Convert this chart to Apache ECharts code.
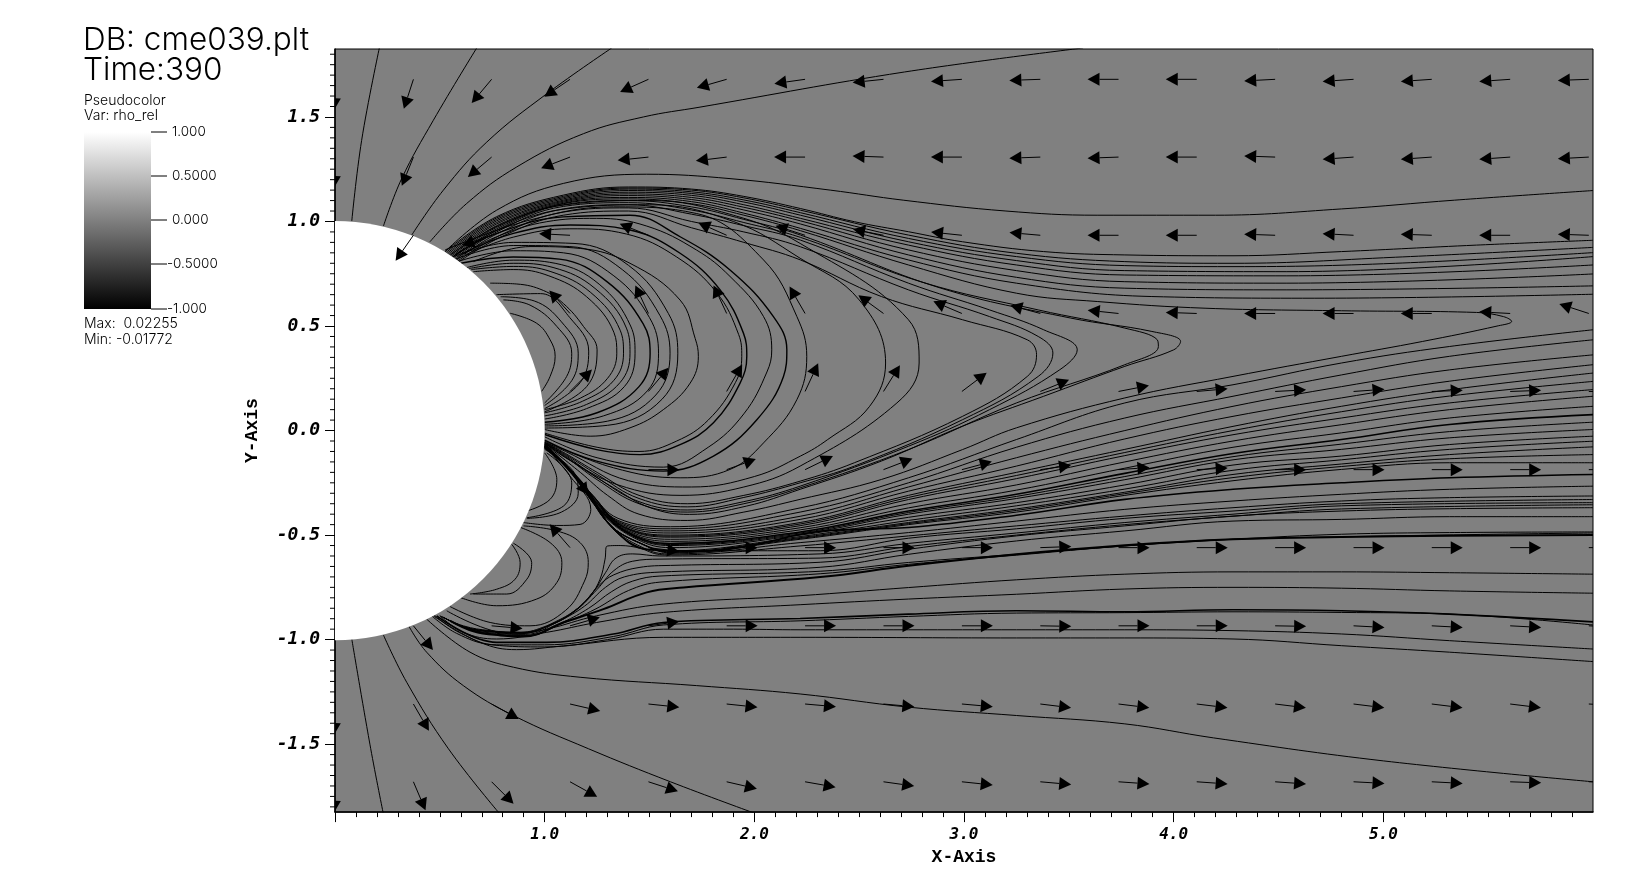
<!DOCTYPE html>
<html>
<head>
<meta charset="utf-8">
<style>
  html, body { margin: 0; padding: 0; background: #fff; }
  #main { width: 1648px; height: 871px; }
</style>
<script src="https://cdn.jsdelivr.net/npm/echarts@6/dist/echarts.min.js"></script>
</head>
<body>
<div id="main"></div>
<script>
// field grid: arrows have their tail on these positions
const arrowCols = [0, 0.374, 0.747, 1.121, 1.495, 1.868, 2.242, 2.616, 2.99, 3.364, 3.737, 4.11, 4.484, 4.858, 5.231, 5.605, 5.98]
const arrowRows = [1.68, 1.308, 0.934, 0.56, 0.187, -0.187, -0.56, -0.934, -1.308, -1.68]
// direction of each arrow in degrees, null = under the sphere
const arrowAngles = [
  [-92, -108, -130, -146, -156, -164, -172, -174, -176, -178, 180, 180, -177, -176, -176, -176, -178],
  [-92, -112, -140, -159, -174, -173, 180, 178, 180, -178, -178, 180, 178, -176, -176, -176, -177],
  [null, -125, -161, 177, 158, 156, 162, 169, 174, 175, 180, 180, 178, 177, 178, 180, 178],
  [null, null, null, 132, 115, 115, 120, 144, 157, 165, 174, 178, 180, 180, 180, 177, 162],
  [null, null, null, 45, 50, 60, 65, 58, 37, 22, 11, 5, 3, 4, 2, 2, 0],
  [null, null, null, -54, 0, 20, 26, 21, 15, 8, 4, 3, 0, 0, 0, 0, 0],
  [null, null, null, 131, -7, 0, 0, 0, 0, 2, 0, 0, 0, 0, 0, 0, 0],
  [null, -51, -5, 16, 8, 0, 0, 0, 0, -1, 0, 0, -1, -3, -3, -3, -3],
  [-92, -60, -29, -13, -6, -6, -5, -5, -5, -7, -7, -7, -7, -7, -7, -7, -3],
  [-92, -67, -45, -29, -18, -13, -10, -8, -6, -5, -4, -4, -4, -3, -3, -2, 0]
]

// open field lines above and below the sphere
const openLines = [
  [[0.08, 1.002], [0.127, 1.388], [0.2115, 1.83]],
  [[0.231, 0.978], [0.318, 1.205], [0.469, 1.484], [0.676, 1.83]],
  [[0.366, 0.935], [0.517, 1.15], [0.724, 1.38], [1.01, 1.611], [1.32, 1.83]],
  [[0.453, 0.903], [0.628, 1.086], [0.867, 1.261], [1.185, 1.42], [1.471, 1.5], [1.741, 1.547], [2.716, 1.715], [3.568, 1.83]],
  [[0.525, 0.856], [0.771, 1.054], [1.089, 1.182], [1.487, 1.226], [1.884, 1.205], [2.362, 1.15], [2.71, 1.102], [3.2, 1.05], [3.635, 1.03], [4.2, 1.03], [4.8, 1.06], [5.34, 1.102], [6, 1.148]],
  [[0.08, -0.997], [0.17, -1.52], [0.23, -1.83]],
  [[0.231, -0.978], [0.342, -1.204], [0.541, -1.522], [0.783, -1.83]],
  [[0.353, -0.937], [0.437, -1.06], [0.612, -1.22], [0.851, -1.363], [1.209, -1.522], [1.6, -1.68], [2.0, -1.83]],
  [[0.437, -0.902], [0.644, -1.06], [0.851, -1.132], [1.169, -1.18], [1.725, -1.22], [2.2185, -1.26], [2.735, -1.323], [3.25, -1.363], [3.767, -1.403], [4.19, -1.47], [5, -1.58], [6, -1.68]]
]

// closed loops in front of the sphere, small to large
const loopLines = [
  [[0.835, 0.561], [0.962, 0.513], [1.026, 0.434], [1.05, 0.355], [1.026, 0.259], [0.986, 0.188]],
  [[0.803, 0.625], [0.93, 0.6], [1.058, 0.498], [1.129, 0.37], [1.105, 0.259], [1.0, 0.132]],
  [[0.79, 0.64], [0.95, 0.62], [1.08, 0.52], [1.16, 0.37], [1.13, 0.24], [1.0, 0.12]],
  [[0.77, 0.65], [0.98, 0.655], [1.12, 0.54], [1.21, 0.38], [1.17, 0.23], [1.0, 0.105]],
  [[0.74, 0.705], [0.867, 0.701], [0.994, 0.67], [1.09, 0.607], [1.185, 0.498], [1.25, 0.386], [1.2, 0.21], [1.0, 0.09]],
  [[0.66, 0.76], [0.85, 0.77], [1.02, 0.74], [1.2, 0.64], [1.33, 0.47], [1.344, 0.37], [1.3, 0.25], [1.17, 0.155], [1.0, 0.1]],
  [[0.65, 0.77], [0.85, 0.785], [1.03, 0.76], [1.22, 0.66], [1.36, 0.48], [1.376, 0.37], [1.33, 0.24], [1.18, 0.14], [1.0, 0.085]],
  [[0.64, 0.775], [0.85, 0.8], [1.04, 0.78], [1.24, 0.68], [1.39, 0.49], [1.407, 0.37], [1.36, 0.23], [1.2, 0.125], [1.0, 0.07]],
  [[0.63, 0.78], [0.85, 0.815], [1.05, 0.8], [1.26, 0.7], [1.41, 0.5], [1.431, 0.37], [1.38, 0.21], [1.2, 0.105], [1.0, 0.055]],
  [[0.59, 0.81], [0.85, 0.86], [1.09, 0.85], [1.33, 0.74], [1.5, 0.54], [1.543, 0.37], [1.49, 0.19], [1.28, 0.07], [1.0, 0.03]],
  [[0.575, 0.82], [0.85, 0.885], [1.12, 0.88], [1.37, 0.77], [1.55, 0.55], [1.598, 0.37], [1.53, 0.17], [1.3, 0.045], [1.0, 0.022]],
  [[0.56, 0.83], [0.85, 0.9], [1.14, 0.895], [1.4, 0.79], [1.59, 0.56], [1.635, 0.37], [1.56, 0.15], [1.3, 0.025], [1.0, 0.012]],
  [[0.66, 0.808], [0.93, 0.88], [1.17, 0.871], [1.407, 0.8], [1.646, 0.624], [1.718, 0.44], [1.733, 0.355], [1.694, 0.227], [1.566, 0.1], [1.407, 0.013], [1.217, -0.027], [1.0, 0.005]],
  [[0.62, 0.84], [0.85, 0.925], [1.12, 0.965], [1.39, 0.94], [1.63, 0.83], [1.82, 0.66], [1.925, 0.46], [1.94, 0.355], [1.91, 0.23], [1.78, 0.05], [1.63, -0.05], [1.45, -0.1], [1.25, -0.08], [1.0, -0.012]],
  [[0.588, 0.832], [0.771, 0.927], [1.01, 0.999], [1.248, 1.015], [1.487, 0.978], [1.725, 0.863], [1.884, 0.737], [2.044, 0.545], [2.083, 0.386], [2.06, 0.28], [1.95, 0.08], [1.78, -0.08], [1.566, -0.175], [1.25, -0.13], [1.0, -0.03]],
  [[0.525, 0.864], [0.93, 1.007], [1.328, 1.07], [1.725, 1.038], [2.044, 0.816], [2.203, 0.545], [2.25, 0.355], [2.203, 0.148], [2.044, -0.059], [1.884, -0.186], [1.646, -0.226], [1.328, -0.178], [1.0, -0.05]],
  [[0.56, 0.83], [0.8, 0.97], [1.1, 1.06], [1.5, 1.08], [1.9, 1.0], [2.2185, 0.824], [2.5, 0.625], [2.626, 0.323], [2.55, 0.116], [2.35, -0.043], [2.22, -0.122], [2.0, -0.22], [1.7, -0.27], [1.4, -0.24], [1.1, -0.1], [1.0, -0.055]],
  [[0.55, 0.84], [0.8, 0.99], [1.1, 1.08], [1.5, 1.1], [1.9, 1.03], [2.2185, 0.895], [2.735, 0.53], [2.786, 0.323], [2.68, 0.132], [2.2185, -0.17], [1.95, -0.27], [1.65, -0.31], [1.35, -0.26], [1.1, -0.13], [1.0, -0.06]]
]
const loopThick = [
  [[0.6, 0.8], [0.85, 0.83], [1.07, 0.82], [1.3, 0.71], [1.47, 0.51], [1.503, 0.37], [1.45, 0.21], [1.25, 0.085], [1.0, 0.04]],
  [[0.612, 0.848], [0.851, 0.943], [1.121, 0.983], [1.407, 0.959], [1.646, 0.848], [1.837, 0.673], [1.948, 0.466], [1.964, 0.355], [1.932, 0.227], [1.805, 0.037], [1.646, -0.067], [1.455, -0.115], [1.248, -0.091], [1.0, -0.019]],
  [[0.573, 0.84], [0.771, 0.943], [1.089, 1.022], [1.407, 1.03], [1.646, 0.927], [1.884, 0.768], [2.091, 0.545], [2.155, 0.386], [2.139, 0.259], [2.012, 0.052], [1.805, -0.122], [1.566, -0.194], [1.248, -0.146], [1.0, -0.046]]
]

// bundle over the top of the loops, running off to the right
const topBundle = [
  [[0.525, 0.856], [0.771, 1.023], [1.089, 1.126], [1.4, 1.165], [1.7, 1.155], [1.95, 1.12], [2.22, 1.062], [2.477, 0.999], [2.735, 0.951], [2.993, 0.903], [3.38, 0.856], [3.767, 0.84], [4.283, 0.836], [4.8, 0.856], [5.444, 0.887], [6, 0.91]],
  [[0.53, 0.852], [0.771, 1.017], [1.089, 1.12], [1.4, 1.16], [1.7, 1.15], [1.95, 1.113], [2.22, 1.054], [2.735, 0.935], [3.25, 0.848], [3.767, 0.808], [4.283, 0.8], [5.057, 0.829], [6, 0.876]],
  [[0.535, 0.848], [0.771, 1.01], [1.089, 1.114], [1.4, 1.155], [1.7, 1.142], [1.95, 1.103], [2.22, 1.042], [2.735, 0.919], [3.25, 0.832], [3.767, 0.789], [4.283, 0.784], [5.057, 0.8], [6, 0.851]],
  [[0.54, 0.844], [0.771, 1.003], [1.089, 1.108], [1.4, 1.148], [1.7, 1.134], [1.95, 1.093], [2.22, 1.03], [2.735, 0.903], [3.25, 0.813], [3.767, 0.765], [4.54, 0.76], [6, 0.832]],
  [[0.545, 0.84], [0.771, 0.995], [1.089, 1.102], [1.4, 1.14], [1.7, 1.125], [1.95, 1.08], [2.22, 1.015], [2.735, 0.887], [3.25, 0.792], [3.767, 0.744], [4.54, 0.74], [6, 0.792]],
  [[0.55, 0.836], [0.771, 0.988], [1.089, 1.097], [1.4, 1.132], [1.7, 1.115], [1.95, 1.068], [2.22, 1.003], [2.735, 0.864], [3.25, 0.765], [3.767, 0.712], [4.54, 0.705], [6, 0.749]],
  [[0.555, 0.833], [0.771, 0.98], [1.089, 1.092], [1.4, 1.124], [1.7, 1.105], [1.95, 1.055], [2.22, 0.988], [2.735, 0.84], [3.25, 0.733], [3.767, 0.681], [4.54, 0.673], [6, 0.692]],
  [[0.56, 0.83], [0.771, 0.972], [1.089, 1.087], [1.4, 1.115], [1.7, 1.095], [1.95, 1.04], [2.22, 0.967], [2.735, 0.816], [3.25, 0.705], [3.896, 0.641], [4.67, 0.633], [6, 0.652]]
]

// lines that fold back in a nose and return under the loops
const noseLines = [
  [[0.565, 0.826], [0.771, 0.965], [1.089, 1.085], [1.4, 1.108], [1.7, 1.085], [1.95, 1.03], [2.22, 0.956], [2.735, 0.792], [3.25, 0.657], [3.638, 0.617], [4.154, 0.585], [4.8, 0.573], [5.444, 0.565], [5.573, 0.545], [5.612, 0.522], [5.548, 0.501], [5.186, 0.426], [4.8, 0.355], [4.283, 0.259], [3.767, 0.156], [3.25, 0.013], [2.993, -0.091], [2.606, -0.234], [2.2185, -0.329], [1.95, -0.39], [1.68, -0.43], [1.45, -0.4], [1.3, -0.31], [1.17, -0.2], [1.0, -0.064]],
  [[0.57, 0.822], [0.771, 0.958], [1.089, 1.08], [1.4, 1.1], [1.7, 1.07], [1.95, 1.01], [2.22, 0.935], [2.89, 0.681], [3.509, 0.538], [3.896, 0.474], [4.033, 0.426], [4, 0.386], [3.767, 0.307], [3.38, 0.164], [2.993, 0.021], [2.606, -0.146], [2.2185, -0.281], [1.964, -0.361], [1.69, -0.401], [1.503, -0.369], [1.328, -0.273], [1.188, -0.186], [1.0, -0.062]],
  [[0.575, 0.818], [0.771, 0.95], [1.089, 1.072], [1.4, 1.09], [1.7, 1.055], [1.95, 0.995], [2.22, 0.924], [2.8, 0.71], [3.354, 0.577], [3.767, 0.49], [3.922, 0.434], [3.927, 0.402], [3.767, 0.315], [3.25, 0.132], [2.735, -0.091], [2.2185, -0.274], [1.95, -0.35], [1.68, -0.39], [1.45, -0.35], [1.25, -0.235], [1.1, -0.125], [1.0, -0.06]],
  [[0.58, 0.815], [0.771, 0.94], [1.089, 1.06], [1.4, 1.08], [1.7, 1.035], [1.95, 0.98], [2.22, 0.911], [2.735, 0.705], [3.122, 0.577], [3.38, 0.482], [3.54, 0.386], [3.457, 0.291], [3.122, 0.1], [2.735, -0.075], [2.2185, -0.266], [1.95, -0.34], [1.68, -0.38], [1.45, -0.34], [1.25, -0.225], [1.1, -0.12], [1.0, -0.059]],
  [[0.585, 0.811], [0.8, 0.94], [1.089, 1.045], [1.4, 1.065], [1.7, 1.0], [1.95, 0.95], [2.22, 0.879], [2.735, 0.673], [3.122, 0.545], [3.354, 0.45], [3.424, 0.371], [3.354, 0.259], [2.993, 0.052], [2.477, -0.17], [2.2185, -0.25], [1.95, -0.32], [1.68, -0.365], [1.45, -0.325], [1.25, -0.21], [1.1, -0.115], [1.0, -0.057]],
  [[0.59, 0.807], [0.8, 0.93], [1.089, 1.03], [1.4, 1.05], [1.7, 0.97], [1.95, 0.9], [2.22, 0.816], [2.606, 0.641], [2.993, 0.53], [3.302, 0.434], [3.346, 0.363], [3.302, 0.259], [2.993, 0.068], [2.477, -0.154], [2.2185, -0.242], [1.95, -0.31], [1.68, -0.35], [1.45, -0.31], [1.25, -0.2], [1.1, -0.11], [1.0, -0.055]]
]

// fan leaving the ridge below the equator
const fanLines = [
  [[6, 0.482], [5.315, 0.402], [4.8, 0.323], [4.283, 0.219], [3.767, 0.132], [3.25, -0.043], [2.735, -0.226], [2.2185, -0.37], [1.6, -0.46], [1.35, -0.42], [1.22, -0.3], [1.1, -0.16], [1.0, -0.065]],
  [[6, 0.434], [5.315, 0.355], [4.8, 0.266], [4.283, 0.164], [3.767, 0.06], [3.25, -0.08], [2.735, -0.25], [2.2185, -0.39], [1.6, -0.47], [1.35, -0.43], [1.23, -0.31], [1.1, -0.165], [1.0, -0.066]],
  [[6, 0.362], [5.315, 0.29], [4.8, 0.21], [4.283, 0.116], [3.767, 0], [3.25, -0.13], [2.735, -0.27], [2.2185, -0.41], [1.6, -0.48], [1.36, -0.44], [1.235, -0.32], [1.105, -0.17], [1.0, -0.067]],
  [[6, 0.315], [5.315, 0.236], [4.8, 0.156], [4.283, 0.068], [3.767, -0.04], [3.25, -0.17], [2.735, -0.29], [2.2185, -0.425], [1.6, -0.49], [1.37, -0.45], [1.24, -0.33], [1.11, -0.175], [1.0, -0.068]],
  [[6, 0.275], [5.315, 0.195], [4.8, 0.116], [4.283, 0.02], [3.767, -0.09], [3.25, -0.2], [2.735, -0.31], [2.2185, -0.44], [1.6, -0.5], [1.38, -0.46], [1.245, -0.34], [1.11, -0.18], [1.0, -0.069]],
  [[6, 0.235], [5.315, 0.165], [4.8, 0.09], [4.283, 0], [3.767, -0.105], [3.25, -0.215], [2.735, -0.32], [2.2185, -0.447], [1.6, -0.505], [1.385, -0.465], [1.248, -0.345], [1.112, -0.182], [1.0, -0.0695]],
  [[6, 0.196], [5.315, 0.132], [4.8, 0.06], [4.283, -0.02], [3.767, -0.12], [3.25, -0.23], [2.735, -0.33], [2.2185, -0.455], [1.6, -0.51], [1.39, -0.47], [1.25, -0.35], [1.115, -0.185], [1.0, -0.07]],
  [[6, 0.164], [5.315, 0.1], [4.8, 0.028], [4.283, -0.05], [3.767, -0.15], [3.25, -0.26], [2.735, -0.35], [2.2185, -0.465], [1.6, -0.52], [1.4, -0.48], [1.255, -0.36], [1.12, -0.19], [1.0, -0.071]],
  [[6, 0.116], [5.315, 0.06], [4.8, -0.011], [4.283, -0.08], [3.767, -0.18], [3.25, -0.285], [2.735, -0.37], [2.2185, -0.475], [1.6, -0.53], [1.41, -0.49], [1.26, -0.37], [1.12, -0.195], [1.0, -0.072]],
  [[6, 0.04], [5.315, -0.005], [4.8, -0.065], [4.283, -0.125], [3.767, -0.22], [3.25, -0.315], [2.735, -0.392], [2.2185, -0.49], [1.6, -0.545], [1.425, -0.505], [1.268, -0.385], [1.128, -0.203], [1.0, -0.0735]],
  [[6, 0.005], [5.315, -0.035], [4.8, -0.09], [4.283, -0.14], [3.767, -0.235], [3.25, -0.325], [2.735, -0.4], [2.2185, -0.495], [1.6, -0.55], [1.43, -0.51], [1.27, -0.39], [1.13, -0.205], [1.0, -0.074]],
  [[6, -0.027], [5.315, -0.067], [4.8, -0.122], [4.283, -0.165], [3.767, -0.26], [3.25, -0.345], [2.735, -0.415], [2.2185, -0.5], [1.6, -0.56], [1.44, -0.52], [1.275, -0.4], [1.135, -0.21], [1.0, -0.075]],
  [[6, -0.051], [5.315, -0.09], [4.8, -0.14], [4.283, -0.19], [3.767, -0.28], [3.25, -0.36], [2.735, -0.43], [2.2185, -0.507], [1.6, -0.575], [1.46, -0.54], [1.3, -0.44], [1.16, -0.23], [1.0, -0.079]],
  [[6, -0.078], [5.315, -0.115], [4.8, -0.16], [4.283, -0.21], [3.767, -0.295], [3.25, -0.375], [2.735, -0.44], [2.2185, -0.512], [1.6, -0.58], [1.47, -0.545], [1.305, -0.445], [1.165, -0.235], [1.0, -0.08]],
  [[6, -0.115], [5.315, -0.135], [4.8, -0.172], [4.283, -0.225], [3.767, -0.302], [3.25, -0.382], [2.735, -0.445], [2.2185, -0.516], [1.6, -0.582], [1.475, -0.548], [1.308, -0.448], [1.168, -0.238], [1.0, -0.0805]],
  [[6, -0.154], [5.315, -0.154], [4.8, -0.186], [4.283, -0.24], [3.767, -0.31], [3.25, -0.39], [2.735, -0.45], [2.2185, -0.52], [1.6, -0.585], [1.48, -0.55], [1.31, -0.45], [1.17, -0.24], [1.0, -0.081]],
  [[6, -0.266], [5.315, -0.281], [4.8, -0.305], [4.283, -0.337], [3.767, -0.377], [3.25, -0.433], [2.735, -0.488], [2.2185, -0.536], [1.6, -0.59], [1.49, -0.57], [1.32, -0.46], [1.18, -0.25], [1.0, -0.083]],
  [[6, -0.313], [5.315, -0.321], [4.8, -0.337], [4.283, -0.369], [3.767, -0.409], [3.25, -0.456], [2.735, -0.504], [2.2185, -0.552], [1.6, -0.595], [1.5, -0.58], [1.325, -0.47], [1.185, -0.255], [1.0, -0.084]]
]
const fanThick = [
  [[6, 0.076], [5.315, 0.029], [4.8, -0.043], [4.283, -0.11], [3.767, -0.205], [3.25, -0.305], [2.735, -0.385], [2.2185, -0.485], [1.6, -0.54], [1.42, -0.5], [1.265, -0.38], [1.125, -0.2], [1.0, -0.073]],
  [[6, -0.21], [5.315, -0.226], [4.8, -0.25], [4.283, -0.281], [3.767, -0.329], [3.25, -0.405], [2.735, -0.464], [2.314, -0.482], [1.966, -0.553], [1.756, -0.577], [1.488, -0.568], [1.315, -0.455], [1.175, -0.245], [1.0, -0.082]]
]

// lines that come along the lower dark band from the sphere
const lowerFan = [
  [[0.5, -0.886], [0.612, -0.934], [0.74, -0.957], [0.883, -0.965], [1.01, -0.934], [1.121, -0.878], [1.217, -0.79], [1.264, -0.711], [1.288, -0.615], [1.297, -0.553], [1.36, -0.55], [1.55, -0.575], [2.314, -0.575], [2.735, -0.515], [3.25, -0.47], [3.767, -0.42], [4.283, -0.385], [4.8, -0.35], [6, -0.33]],
  [[0.51, -0.89], [0.62, -0.94], [0.75, -0.96], [0.89, -0.965], [1.03, -0.93], [1.14, -0.865], [1.23, -0.775], [1.29, -0.68], [1.34, -0.61], [1.42, -0.59], [1.55, -0.6], [2.314, -0.59], [2.735, -0.54], [3.25, -0.49], [3.767, -0.44], [4.283, -0.4], [4.8, -0.36], [6, -0.345]],
  [[0.515, -0.892], [0.625, -0.942], [0.755, -0.962], [0.895, -0.967], [1.04, -0.925], [1.15, -0.86], [1.25, -0.76], [1.33, -0.67], [1.42, -0.625], [1.55, -0.615], [2.314, -0.61], [2.735, -0.555], [3.25, -0.5], [3.767, -0.45], [4.283, -0.41], [4.8, -0.375], [6, -0.355]],
  [[0.52, -0.895], [0.63, -0.945], [0.76, -0.965], [0.9, -0.97], [1.05, -0.915], [1.17, -0.84], [1.26, -0.74], [1.33, -0.69], [1.45, -0.655], [1.6, -0.645], [2.314, -0.63], [2.735, -0.568], [3.25, -0.504], [3.767, -0.456], [4.283, -0.409], [4.8, -0.385], [5.315, -0.374], [6, -0.369]],
  [[0.53, -0.9], [0.64, -0.95], [0.77, -0.97], [0.91, -0.975], [1.07, -0.91], [1.19, -0.84], [1.29, -0.75], [1.38, -0.7], [1.55, -0.677], [2.314, -0.654], [2.735, -0.592], [3.25, -0.528], [3.767, -0.48], [4.283, -0.433], [4.8, -0.425], [5.315, -0.412], [6, -0.412]],
  [[0.54, -0.905], [0.65, -0.955], [0.78, -0.975], [0.92, -0.98], [1.09, -0.915], [1.21, -0.85], [1.32, -0.77], [1.42, -0.72], [1.55, -0.696], [2.314, -0.673], [2.735, -0.631], [3.25, -0.592], [3.767, -0.552], [4.283, -0.52], [4.8, -0.496], [5.315, -0.488], [6, -0.485]],
  [[0.545, -0.908], [0.655, -0.958], [0.785, -0.978], [0.91, -0.983], [1.09, -0.92], [1.24, -0.855], [1.4, -0.765], [1.55, -0.725], [2.314, -0.685], [2.735, -0.64], [3.25, -0.596], [3.767, -0.552], [4.283, -0.52], [6, -0.49]]
]
const lowerThick = [
  [[0.55, -0.91], [0.66, -0.96], [0.79, -0.98], [0.9, -0.985], [1.089, -0.918], [1.28, -0.854], [1.487, -0.774], [1.662, -0.751], [2.314, -0.701], [2.735, -0.647], [3.25, -0.592], [3.767, -0.549], [4.283, -0.52], [4.8, -0.509], [5.315, -0.503], [6, -0.5]]
]

// below the band, flat to the right edge
const bottomBundle = [
  [[0.533, -0.862], [0.85, -0.973], [1.01, -0.95], [1.248, -0.886], [1.566, -0.83], [2.2185, -0.79], [2.735, -0.751], [3.25, -0.714], [3.767, -0.687], [4.283, -0.676], [4.8, -0.676], [5.315, -0.68], [6, -0.687]],
  [[0.5, -0.886], [0.612, -0.965], [0.771, -0.997], [1.01, -0.965], [1.248, -0.918], [1.566, -0.87], [2.2185, -0.833], [2.735, -0.806], [3.25, -0.783], [3.767, -0.758], [4.283, -0.75], [4.8, -0.754], [5.315, -0.767], [6, -0.778]],
  [[0.47, -0.88], [0.6, -0.97], [0.771, -1.025], [1.0, -1.025], [1.328, -0.985], [1.566, -0.93], [2.2185, -0.91], [2.735, -0.889], [3.25, -0.873], [3.767, -0.871], [4.283, -0.867], [4.8, -0.87], [5.315, -0.878], [6, -0.93]],
  [[0.46, -0.885], [0.58, -0.97], [0.75, -1.025], [1.0, -1.035], [1.3, -1.0], [1.566, -0.95], [1.9, -0.95], [2.2185, -0.953], [2.735, -0.953], [3.25, -0.953], [3.767, -0.953], [4.283, -0.957], [4.8, -0.973], [5.315, -1.005], [6, -1.045]],
  [[0.469, -0.886], [0.692, -1.013], [0.866, -1.048], [1.089, -1.03], [1.566, -0.989], [2.2185, -0.989], [3.25, -0.992], [3.767, -0.992], [4.283, -0.997], [4.8, -1.029], [5.315, -1.06], [6, -1.105]]
]
const bottomThick = [
  [[0.485, -0.886], [0.771, -1.013], [1.01, -1.013], [1.328, -0.973], [1.566, -0.918], [2.2185, -0.899], [2.735, -0.878], [3.25, -0.862], [3.767, -0.867], [4.283, -0.857], [4.8, -0.862], [5.315, -0.878], [6, -0.915]]
]

// small lobes between the sphere and the ridge
const lobeLines = [
  [[1.0, -0.107], [1.058, -0.234], [1.026, -0.329], [0.915, -0.385]],
  [[1.01, -0.107], [1.129, -0.25], [1.09, -0.361], [0.915, -0.417]],
  [[1.0, -0.09], [1.14, -0.2], [1.16, -0.3], [1.08, -0.39], [0.915, -0.42]],
  [[1.0, -0.075], [1.121, -0.218], [1.22, -0.377], [1.169, -0.449], [1.058, -0.454], [0.899, -0.44]],
  [[0.875, -0.46], [1.026, -0.536], [1.082, -0.631], [1.058, -0.727], [0.962, -0.806], [0.771, -0.838], [0.596, -0.798]],
  [[0.851, -0.539], [0.938, -0.631], [0.915, -0.711], [0.819, -0.782], [0.66, -0.782]],
  [[0.843, -0.544], [0.883, -0.631], [0.859, -0.711], [0.771, -0.759], [0.644, -0.782]],
  [[0.899, -0.456], [1.058, -0.48], [1.169, -0.536], [1.208, -0.631], [1.19, -0.72], [1.1, -0.86], [0.93, -0.934], [0.74, -0.918], [0.549, -0.842]]
]

const xTicksMajor = [0, 1, 2, 3, 4, 5]
const xLabels = [1, 2, 3, 4, 5]
const yTicksMajor = [-1.5, -1, -0.5, 0, 0.5, 1, 1.5]
const yTicksMinor = [-1.8, -1.75, -1.7, -1.65, -1.6, -1.55, -1.45, -1.4, -1.35, -1.3, -1.25, -1.2, -1.15, -1.1, -1.05, -0.95, -0.9, -0.85, -0.8, -0.75, -0.7, -0.65, -0.6, -0.55, -0.45, -0.4, -0.35, -0.3, -0.25, -0.2, -0.15, -0.1, -0.05, 0.05, 0.1, 0.15, 0.2, 0.25, 0.3, 0.35, 0.4, 0.45, 0.55, 0.6, 0.65, 0.7, 0.75, 0.8, 0.85, 0.9, 0.95, 1.05, 1.1, 1.15, 1.2, 1.25, 1.3, 1.35, 1.4, 1.45, 1.55, 1.6, 1.65, 1.7, 1.75, 1.8]
const legendTicks = ['1.000', '0.5000', '0.000', '-0.5000', '-1.000']
const legendTickY = [132, 176, 220, 264, 309]

const lineSeries = (lines, width) => lines.map((pts) => ({
  type: 'line',
  data: pts,
  symbol: 'none',
  smooth: 0.4,
  smoothConstraint: false,
  silent: true,
  animation: false,
  z: 2,
  lineStyle: { color: '#000', width: width }
}))

const arrowData = []
arrowRows.forEach((y, r) => {
  arrowCols.forEach((x, c) => {
    if (arrowAngles[r][c] !== null) {
      arrowData.push([x, y, arrowAngles[r][c]])
    }
  })
})

const arrowLen = 31
const headLen = 12
const headHalf = 6.5

const renderArrow = (params, api) => {
  const p = api.coord([api.value(0), api.value(1)])
  const a = (api.value(2) * Math.PI) / 180
  const ux = Math.cos(a)
  const uy = -Math.sin(a)
  const tip = [p[0] + ux * arrowLen, p[1] + uy * arrowLen]
  const base = [tip[0] - ux * headLen, tip[1] - uy * headLen]
  return {
    type: 'group',
    children: [
      {
        type: 'line',
        shape: { x1: p[0], y1: p[1], x2: base[0], y2: base[1] },
        style: { stroke: '#000', lineWidth: 1 }
      },
      {
        type: 'polygon',
        shape: {
          points: [
            tip,
            [base[0] - uy * headHalf, base[1] + ux * headHalf],
            [base[0] + uy * headHalf, base[1] - ux * headHalf]
          ]
        },
        style: { fill: '#000' }
      }
    ]
  }
}

const renderSphere = (params, api) => {
  const c = api.coord([api.value(0), api.value(1)])
  const size = api.size([api.value(2), api.value(2)])
  return {
    type: 'circle',
    shape: { cx: c[0], cy: c[1], r: size[0] },
    style: { fill: '#fff' }
  }
}

const renderMinorTick = (params, api) => {
  const p = api.coord([0, api.value(0)])
  return {
    type: 'line',
    shape: { x1: p[0] - 5, y1: p[1], x2: p[0], y2: p[1] },
    style: { stroke: '#000', lineWidth: 1 }
  }
}

const titleFont = 'Inter, sans-serif'
const text = (x, y, str, size) => ({
  type: 'text',
  left: x,
  top: y,
  silent: true,
  style: { text: str, fontSize: size, fontFamily: titleFont, fontWeight: 300, fill: '#000' }
})

const legendGraphics = [
  text(83, 25, 'DB: cme039.plt', 31.5),
  text(83, 55, 'Time:390', 31.5),
  text(84, 94, 'Pseudocolor', 14),
  text(84, 109, 'Var: rho_rel', 14),
  text(84, 317, 'Max:  0.02255', 14),
  text(84, 333, 'Min: -0.01772', 14),
  {
    type: 'rect',
    shape: { x: 84, y: 132, width: 67, height: 177 },
    silent: true,
    style: {
      fill: new echarts.graphic.LinearGradient(0, 0, 0, 1, [
        { offset: 0, color: '#fff' },
        { offset: 1, color: '#000' }
      ])
    }
  }
]
legendTicks.forEach((label, i) => {
  legendGraphics.push({
    type: 'line',
    shape: { x1: 151, y1: legendTickY[i], x2: 167, y2: legendTickY[i] },
    silent: true,
    style: { stroke: '#000', lineWidth: 1 }
  })
  legendGraphics.push(text(label.charAt(0) === '-' ? 167 : 172, legendTickY[i] - 7, label, 13.5))
})

const axisFont = {
  fontFamily: '"DejaVu Sans Mono", monospace',
  fontWeight: 'bold',
  fontStyle: 'italic',
  color: '#000'
}
const nameFont = {
  fontFamily: '"Liberation Mono", monospace',
  fontWeight: 'bold',
  fontSize: 18,
  color: '#000'
}

const myChart = echarts.init(document.getElementById('main'), null, { renderer: 'canvas' })
myChart.setOption({
  animation: false,
  backgroundColor: '#fff',
  grid: {
    left: 335,
    right: 55,
    top: 49,
    bottom: 58,
    show: true,
    backgroundColor: '#808080',
    borderColor: '#000',
    borderWidth: 1
  },
  xAxis: {
    type: 'value',
    min: 0,
    max: 6,
    interval: 1,
    name: 'X-Axis',
    nameLocation: 'middle',
    nameGap: 32,
    nameTextStyle: nameFont,
    splitLine: { show: false },
    axisLine: { onZero: false, lineStyle: { color: '#000', width: 1.5 } },
    axisTick: { length: 10, customValues: xTicksMajor, lineStyle: { color: '#000' } },
    minorTick: { show: true, splitNumber: 10, length: 5, lineStyle: { color: '#000' } },
    axisLabel: {
      ...axisFont,
      fontSize: 16,
      margin: 15,
      customValues: xLabels,
      formatter: (v) => v.toFixed(1)
    }
  },
  yAxis: {
    type: 'value',
    min: -1.825,
    max: 1.825,
    name: 'Y-Axis',
    nameLocation: 'middle',
    nameGap: 74,
    nameTextStyle: nameFont,
    splitLine: { show: false },
    axisLine: { onZero: false, lineStyle: { color: '#000', width: 1.5 } },
    axisTick: { length: 10, customValues: yTicksMajor, lineStyle: { color: '#000' } },
    axisLabel: {
      ...axisFont,
      fontSize: 18,
      margin: 15,
      customValues: yTicksMajor,
      formatter: (v) => v.toFixed(1)
    }
  },
  graphic: legendGraphics,
  series: [
    ...lineSeries(openLines, 1),
    ...lineSeries(loopLines, 1),
    ...lineSeries(loopThick, 1.4),
    ...lineSeries(topBundle, 1),
    ...lineSeries(noseLines, 1),
    ...lineSeries(fanLines, 1),
    ...lineSeries(fanThick, 1.6),
    ...lineSeries(lowerFan, 1),
    ...lineSeries(lowerThick, 2),
    ...lineSeries(bottomBundle, 1),
    ...lineSeries(bottomThick, 1.6),
    ...lineSeries(lobeLines, 1),
    {
      type: 'custom',
      data: [[0, 0, 1]],
      renderItem: renderSphere,
      clip: true,
      silent: true,
      z: 3
    },
    {
      type: 'custom',
      data: arrowData,
      renderItem: renderArrow,
      clip: true,
      silent: true,
      z: 4
    },
    {
      type: 'custom',
      data: yTicksMinor.map((v) => [v]),
      encode: { y: 0 },
      renderItem: renderMinorTick,
      clip: false,
      silent: true,
      z: 1
    }
  ]
})
</script>
</body>
</html>
